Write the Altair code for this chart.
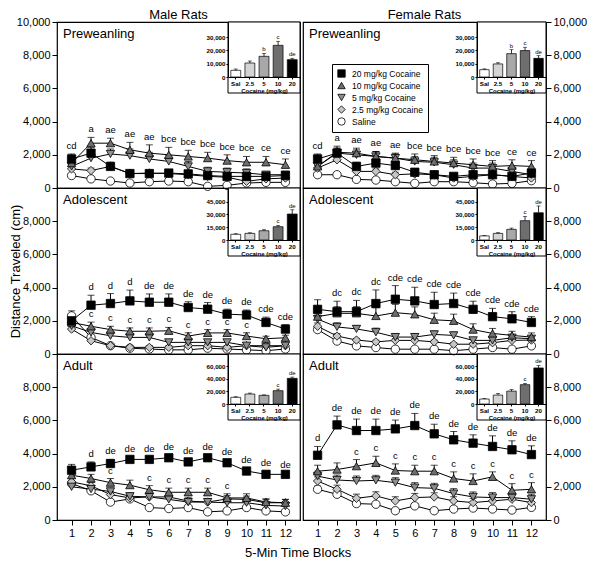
import altair as alt
import pandas as pd

FONT = "Liberation Sans"

times = list(range(1, 13))
groups = ["20 mg/kg Cocaine", "10 mg/kg Cocaine", "5 mg/kg Cocaine", "2.5 mg/kg Cocaine", "Saline"]
shapes = ["square", "triangle-up", "triangle-down", "diamond", "circle"]
fills = ["#000000", "#6e6e6e", "#8e8e8e", "#c6c6c6", "#ffffff"]
strokes = ["#000000", "#000000", "#000000", "#000000", "#000000"]
doses = ["Sal", "2.5", "5", "10", "20"]
dose_fills = ["#ffffff", "#d4d4d4", "#a8a8a8", "#6e6e6e", "#000000"]
row_names = ["Preweanling", "Adolescent", "Adult"]
col_names = ["Male Rats", "Female Rats"]

# ---------------- Male preweanling ----------------
m_pre_20 = [1750, 2100, 1300, 870, 870, 900, 850, 750, 700, 700, 700, 750]
m_pre_10 = [1500, 2700, 2700, 2300, 2100, 2000, 1900, 1800, 1650, 1550, 1550, 1400]
m_pre_5 = [1300, 1800, 2050, 1950, 1750, 1600, 1300, 1000, 950, 900, 800, 800]
m_pre_25 = [1150, 1050, 1300, 870, 900, 870, 800, 700, 650, 400, 550, 600]
m_pre_sal = [750, 550, 420, 300, 380, 420, 380, 100, 160, 300, 340, 340]
m_pre_20_se = [300, 350, 250, 200, 200, 200, 200, 150, 150, 150, 150, 150]
m_pre_10_se = [300, 350, 300, 450, 500, 450, 370, 350, 350, 350, 350, 350]
m_pre_5_se = [250, 350, 300, 400, 400, 350, 300, 250, 250, 250, 200, 200]
m_pre_25_se = [150, 150, 150, 150, 150, 150, 150, 120, 120, 120, 120, 120]
m_pre_sal_se = [120, 100, 100, 100, 100, 100, 100, 80, 80, 100, 100, 100]
m_pre_top = ["cd", "a", "ae", "ae", "ae", "bce", "bce", "bce", "bce", "bce", "ce", "ce"]
m_pre_mid = ["", "", "", "", "", "", "", "", "", "", "", ""]

# ---------------- Female preweanling ----------------
f_pre_20 = [1750, 2100, 1300, 1500, 1350, 950, 800, 700, 800, 800, 700, 900]
f_pre_10 = [1300, 2150, 2100, 1900, 1800, 1700, 1600, 1500, 1400, 1300, 1350, 1300]
f_pre_5 = [1300, 2100, 2000, 1900, 1800, 1600, 1550, 1400, 1200, 1200, 1000, 800]
f_pre_25 = [1200, 1700, 1000, 1000, 800, 850, 800, 600, 700, 800, 700, 600]
f_pre_sal = [800, 800, 520, 480, 380, 280, 380, 380, 320, 240, 280, 440]
f_pre_20_se = [300, 300, 250, 250, 250, 200, 200, 150, 150, 150, 150, 150]
f_pre_10_se = [250, 370, 300, 300, 250, 350, 350, 350, 350, 350, 350, 350]
f_pre_5_se = [250, 300, 300, 300, 300, 300, 300, 300, 300, 300, 250, 250]
f_pre_25_se = [150, 200, 150, 150, 150, 150, 150, 120, 120, 120, 120, 120]
f_pre_sal_se = [100, 100, 100, 100, 100, 80, 80, 80, 80, 80, 80, 100]
f_pre_top = ["cd", "a", "ae", "ae", "ae", "bce", "bce", "bce", "bce", "bce", "ce", "ce"]
f_pre_mid = ["", "", "", "", "", "", "", "", "", "", "", ""]

# ---------------- Male adolescent ----------------
m_ado_20 = [2000, 2940, 3040, 3200, 3120, 3120, 2800, 2700, 2400, 2350, 1900, 1500]
m_ado_10 = [1900, 1670, 1470, 1370, 1370, 1400, 1080, 1270, 1270, 1080, 920, 980]
m_ado_5 = [1700, 1300, 1100, 1000, 1000, 700, 700, 700, 700, 500, 400, 500]
m_ado_25 = [1500, 800, 500, 400, 400, 400, 500, 500, 400, 500, 500, 500]
m_ado_sal = [2300, 1000, 500, 350, 300, 250, 250, 350, 300, 250, 200, 300]
m_ado_20_se = [300, 600, 600, 650, 500, 500, 350, 400, 300, 300, 320, 260]
m_ado_10_se = [250, 250, 200, 200, 200, 200, 200, 200, 200, 200, 150, 150]
m_ado_5_se = [200, 200, 150, 150, 150, 150, 150, 150, 150, 150, 100, 100]
m_ado_25_se = [150, 150, 100, 100, 100, 100, 100, 100, 100, 100, 100, 100]
m_ado_sal_se = [300, 150, 100, 100, 80, 80, 80, 80, 80, 80, 80, 80]
m_ado_top = ["", "d", "d", "d", "de", "de", "de", "de", "de", "de", "cde", "cde"]
m_ado_mid = ["", "c", "c", "c", "c", "c", "c", "c", "c", "c", "", ""]

# ---------------- Female adolescent ----------------
f_ado_20 = [2690, 2550, 2550, 3040, 3300, 3200, 2980, 3040, 2690, 2250, 2120, 1900]
f_ado_10 = [2250, 2450, 2450, 2290, 2490, 2390, 2060, 2000, 1470, 1240, 1120, 1020]
f_ado_5 = [2100, 1630, 1510, 1310, 1020, 1020, 1180, 1120, 820, 820, 980, 920]
f_ado_25 = [1670, 1080, 840, 730, 820, 820, 730, 590, 590, 680, 820, 840]
f_ado_sal = [1470, 780, 490, 390, 290, 290, 290, 200, 290, 390, 290, 490]
f_ado_20_se = [580, 630, 680, 820, 820, 820, 740, 630, 490, 500, 430, 350]
f_ado_10_se = [300, 400, 400, 500, 500, 450, 400, 400, 350, 300, 250, 250]
f_ado_5_se = [250, 250, 200, 250, 200, 200, 200, 200, 150, 150, 150, 150]
f_ado_25_se = [200, 150, 100, 100, 100, 100, 100, 100, 100, 100, 100, 100]
f_ado_sal_se = [200, 100, 80, 80, 80, 80, 80, 80, 80, 80, 80, 80]
f_ado_top = ["", "dc", "dc", "dc", "cde", "cde", "cde", "cde", "cde", "cde", "cde", "cde"]
f_ado_mid = ["", "", "", "", "", "", "", "", "", "", "", ""]

# ---------------- Male adult ----------------
m_adu_20 = [3000, 3200, 3400, 3650, 3650, 3750, 3500, 3750, 3450, 2950, 2750, 2750]
m_adu_10 = [2700, 2500, 2250, 2100, 1820, 1670, 1670, 1670, 1330, 1330, 1080, 1040]
m_adu_5 = [2000, 1860, 1720, 1430, 1390, 1240, 1080, 1080, 1040, 1040, 880, 840]
m_adu_25 = [2300, 2060, 1530, 1330, 1390, 1390, 1140, 1080, 1270, 1240, 1040, 1040]
m_adu_sal = [2200, 1760, 1080, 1270, 750, 690, 750, 490, 550, 750, 550, 490]
m_adu_20_se = [350, 300, 250, 150, 150, 150, 150, 150, 150, 200, 200, 100]
m_adu_10_se = [250, 250, 250, 300, 250, 250, 250, 250, 250, 250, 200, 200]
m_adu_5_se = [200, 200, 200, 200, 200, 200, 200, 200, 200, 200, 200, 200]
m_adu_25_se = [200, 200, 200, 200, 200, 200, 200, 200, 200, 200, 200, 200]
m_adu_sal_se = [150, 150, 150, 150, 100, 100, 100, 100, 100, 100, 100, 100]
m_adu_top = ["", "d", "de", "de", "de", "de", "de", "de", "de", "de", "de", "de"]
m_adu_mid = ["", "", "c", "", "c", "c", "c", "c", "c", "", "", ""]

# ---------------- Female adult ----------------
f_adu_20 = [3900, 5730, 5390, 5390, 5490, 5690, 5190, 4830, 4630, 4430, 4230, 3940]
f_adu_10 = [2940, 3040, 3240, 3440, 2980, 2940, 2940, 2500, 2350, 2600, 1790, 1850]
f_adu_5 = [2640, 2410, 2350, 2390, 2250, 1950, 1910, 1590, 1390, 1350, 1350, 1250]
f_adu_25 = [2350, 1850, 1310, 1450, 1150, 1350, 1390, 1150, 1050, 1150, 1250, 1050]
f_adu_sal = [1850, 1550, 990, 950, 560, 850, 560, 660, 720, 660, 600, 760]
f_adu_20_se = [530, 530, 690, 690, 530, 730, 580, 500, 500, 640, 540, 530]
f_adu_10_se = [360, 400, 400, 400, 400, 360, 360, 400, 430, 300, 400, 400]
f_adu_5_se = [300, 300, 300, 300, 300, 300, 300, 300, 300, 300, 300, 300]
f_adu_25_se = [250, 250, 250, 250, 250, 250, 250, 250, 250, 250, 250, 250]
f_adu_sal_se = [200, 200, 150, 150, 150, 150, 150, 150, 150, 150, 150, 150]
f_adu_top = ["d", "de", "de", "de", "de", "de", "de", "de", "de", "de", "de", "de"]
f_adu_mid = ["", "", "c", "c", "c", "c", "c", "c", "c", "c", "c", "c"]

# ---------------- Insets: total distance by dose ----------------
m_pre_bar = [5000, 10500, 15500, 23750, 13000]
m_pre_bar_se = [1000, 1500, 2200, 3000, 1000]
m_pre_bar_lab = ["", "", "b", "c", "de"]
f_pre_bar = [5500, 9800, 17500, 19800, 14000]
f_pre_bar_se = [600, 900, 3000, 2500, 2000]
f_pre_bar_lab = ["", "", "b", "c", "de"]
m_ado_bar = [6700, 7800, 10900, 15600, 30500]
m_ado_bar_se = [700, 700, 1200, 1500, 5000]
m_ado_bar_lab = ["", "", "", "c", "de"]
f_ado_bar = [4800, 7800, 12500, 22700, 32000]
f_ado_bar_se = [500, 800, 1500, 5000, 8000]
f_ado_bar_lab = ["", "", "", "c", "de"]
m_adu_bar = [10600, 15900, 13800, 21200, 40800]
m_adu_bar_se = [1000, 1500, 700, 2500, 2000]
m_adu_bar_lab = ["", "", "", "c", "de"]
f_adu_bar = [7900, 14200, 20500, 30800, 57400]
f_adu_bar_se = [800, 2500, 2500, 2000, 4000]
f_adu_bar_lab = ["", "", "", "c", "de"]

inset_ticks = [[0, 10000, 20000, 30000], [0, 15000, 30000, 45000], [0, 20000, 40000, 60000]]

PANELS = {
    (0, 0): ([m_pre_20, m_pre_10, m_pre_5, m_pre_25, m_pre_sal],
             [m_pre_20_se, m_pre_10_se, m_pre_5_se, m_pre_25_se, m_pre_sal_se],
             m_pre_top, m_pre_mid, m_pre_bar, m_pre_bar_se, m_pre_bar_lab),
    (0, 1): ([f_pre_20, f_pre_10, f_pre_5, f_pre_25, f_pre_sal],
             [f_pre_20_se, f_pre_10_se, f_pre_5_se, f_pre_25_se, f_pre_sal_se],
             f_pre_top, f_pre_mid, f_pre_bar, f_pre_bar_se, f_pre_bar_lab),
    (1, 0): ([m_ado_20, m_ado_10, m_ado_5, m_ado_25, m_ado_sal],
             [m_ado_20_se, m_ado_10_se, m_ado_5_se, m_ado_25_se, m_ado_sal_se],
             m_ado_top, m_ado_mid, m_ado_bar, m_ado_bar_se, m_ado_bar_lab),
    (1, 1): ([f_ado_20, f_ado_10, f_ado_5, f_ado_25, f_ado_sal],
             [f_ado_20_se, f_ado_10_se, f_ado_5_se, f_ado_25_se, f_ado_sal_se],
             f_ado_top, f_ado_mid, f_ado_bar, f_ado_bar_se, f_ado_bar_lab),
    (2, 0): ([m_adu_20, m_adu_10, m_adu_5, m_adu_25, m_adu_sal],
             [m_adu_20_se, m_adu_10_se, m_adu_5_se, m_adu_25_se, m_adu_sal_se],
             m_adu_top, m_adu_mid, m_adu_bar, m_adu_bar_se, m_adu_bar_lab),
    (2, 1): ([f_adu_20, f_adu_10, f_adu_5, f_adu_25, f_adu_sal],
             [f_adu_20_se, f_adu_10_se, f_adu_5_se, f_adu_25_se, f_adu_sal_se],
             f_adu_top, f_adu_mid, f_adu_bar, f_adu_bar_se, f_adu_bar_lab),
}

# ---------------- layout constants ----------------
W, H = 243, 166
XDOM = [0.25, 12.75]
INSET_ZERO = [55, 52, 50]          # pixel row of the inset's zero line
INSET_PX_PER_UNIT = [40 / 30000, 38.3 / 45000, 37.7 / 60000]
INSET_LEFT = [171, 174]

LEG = alt.Legend(
    title=None, orient="none", legendX=275, legendY=42,
    strokeColor="black", fillColor="white", padding=5,
    labelFontSize=8.5, labelFont=FONT, labelColor="black",
    symbolStrokeWidth=0.8, symbolSize=55,
    rowPadding=1, labelOffset=6,
)


def make_panel(r, c):
    means, sems, top_lab, mid_lab, bar, bar_se, bar_lab = PANELS[(r, c)]
    recs = []
    for gi in reversed(range(5)):
        for t, m, s in zip(times, means[gi], sems[gi]):
            recs.append(dict(time=t, group=groups[gi], mean=m, top=m + s))
    df = pd.DataFrame(recs)

    lab_recs = []
    for i, t in enumerate(times):
        tops = [means[g][i] + sems[g][i] for g in range(5)]
        if top_lab[i]:
            lab_recs.append(dict(time=t, label=top_lab[i], anchor=max(tops)))
        if mid_lab[i]:
            lab_recs.append(dict(time=t, label=mid_lab[i], anchor=tops[1]))
    ldf = pd.DataFrame(lab_recs)

    xscale = alt.Scale(domain=XDOM, nice=False, zero=False)
    if r == 2:
        xaxis = alt.Axis(values=times, title=None, grid=False, domain=False, tickSize=5,
                         tickColor="black", labelFontSize=11, labelColor="black",
                         labelPadding=2, labelFlush=False)
    else:
        xaxis = None
    yvals = list(range(0, 10001, 2000)) if r == 0 else list(range(0, 8001, 2000))
    ykw = dict(orient="left" if c == 0 else "right", values=yvals, format=",.0f", grid=False,
               domain=False, tickSize=5, tickColor="black", labelFontSize=11,
               labelColor="black", labelPadding=2, labelFlush=False)
    if r == 1 and c == 0:
        ykw.update(title="Distance Traveled (cm)", titleFontSize=13, titleFontWeight="normal",
                   titlePadding=0, titleColor="black")
    else:
        ykw.update(title=None)
    yaxis = alt.Axis(**ykw)
    yscale = alt.Scale(domain=[0, 10000], nice=False)

    X = alt.X("time:Q", scale=xscale, axis=xaxis)
    base = alt.Chart(df)
    lines = base.mark_line(color="black", strokeWidth=1).encode(
        x=X, y=alt.Y("mean:Q", scale=yscale, axis=yaxis), detail="group:N")
    err = base.mark_rule(color="black", strokeWidth=1).encode(
        x=X, y=alt.Y("mean:Q", scale=yscale, axis=yaxis), y2="top:Q")
    caps = base.mark_tick(orient="horizontal", size=7, thickness=1, color="black").encode(
        x=X, y=alt.Y("top:Q", scale=yscale, axis=yaxis))
    pts = base.mark_point(filled=True, size=70, strokeWidth=0.8, opacity=1).encode(
        x=X, y=alt.Y("mean:Q", scale=yscale, axis=yaxis),
        shape=alt.Shape("group:N", scale=alt.Scale(domain=groups, range=shapes), legend=LEG),
        fill=alt.Fill("group:N", scale=alt.Scale(domain=groups, range=fills), legend=LEG),
        stroke=alt.Stroke("group:N", scale=alt.Scale(domain=groups, range=strokes), legend=LEG),
    )
    letters = alt.Chart(ldf).mark_text(fontSize=9.5, baseline="bottom", dy=-3, color="black",
                                       font=FONT).encode(
        x=X, y=alt.Y("anchor:Q", scale=yscale, axis=yaxis), text="label:N")
    name = alt.Chart(pd.DataFrame({"t": [row_names[r]]})).mark_text(
        align="left", baseline="top", fontSize=13, font=FONT, color="black").encode(
        x=alt.value(6), y=alt.value(6), text="t:N")
    main = alt.layer(lines, err, caps, pts, letters, name)

    # ---------- inset ----------
    zero = INSET_ZERO[r]
    dmax = zero / INSET_PX_PER_UNIT[r]
    ix0 = INSET_LEFT[c]
    idf = pd.DataFrame({"dose": doses, "val": bar, "top": [v + e for v, e in zip(bar, bar_se)],
                        "lab": bar_lab, "fillc": dose_fills})
    ixaxis = alt.Axis(orient="bottom", offset=zero - H, title="Cocaine (mg/kg)", labelAngle=0,
                      labelFontSize=6.2, labelFontWeight="bold", labelPadding=1, tickSize=2,
                      titleFontSize=6, titleFontWeight="bold", titlePadding=1,
                      domainColor="black", tickColor="black", labelColor="black",
                      titleColor="black", zindex=2)
    IX = alt.X("dose:N", sort=doses,
               scale=alt.Scale(domain=doses, range=[ix0, W], paddingInner=0.3, paddingOuter=0.2),
               axis=ixaxis)
    iyaxis = alt.Axis(orient="left", offset=-ix0, values=inset_ticks[r], format=",.0f", title=None,
                      grid=False, labelFontSize=6.2, labelFontWeight="bold", tickSize=2,
                      labelPadding=1, domainColor="black", tickColor="black", labelColor="black",
                      zindex=2)
    iyscale = alt.Scale(domain=[0, dmax], range=[zero, 0], nice=False)
    box = alt.Chart(pd.DataFrame({"a": [0]})).mark_rect(fill="white", stroke="black",
                                                         strokeWidth=1).encode(
        x=alt.value(ix0), x2=alt.value(W), y=alt.value(0), y2=alt.value(zero + 16))
    ib = alt.Chart(idf)
    ibars = ib.mark_bar(stroke="black", strokeWidth=0.7).encode(
        x=IX, y=alt.Y("val:Q", scale=iyscale, axis=iyaxis), fill=alt.Fill("fillc:N", scale=None))
    ierr = ib.mark_rule(color="black", strokeWidth=0.8).encode(
        x=IX, y=alt.Y("val:Q", scale=iyscale, axis=iyaxis), y2="top:Q")
    icap = ib.mark_tick(orient="horizontal", size=4, thickness=0.8, color="black").encode(
        x=IX, y=alt.Y("top:Q", scale=iyscale, axis=iyaxis))
    ilab = ib.mark_text(fontSize=6, baseline="bottom", dy=-1, color="black", font=FONT).encode(
        x=IX, y=alt.Y("top:Q", scale=iyscale, axis=iyaxis), text="lab:N")
    inset = alt.layer(box, ibars, ierr, icap, ilab)

    panel = alt.layer(main, inset).resolve_scale(x="independent", y="independent").properties(
        width=W, height=H)
    if r == 0:
        panel = panel.properties(title=alt.TitleParams(col_names[c], fontSize=13,
                                                       fontWeight="normal", offset=-6,
                                                       anchor="middle", color="black"))
    return panel


left = alt.vconcat(*[make_panel(r, 0) for r in range(3)], spacing=0, bounds="flush")
right = alt.vconcat(*[make_panel(r, 1) for r in range(3)], spacing=0, bounds="flush")

chart = alt.hconcat(left, right, spacing=0).properties(
    padding=0,
    title=alt.TitleParams("5-Min Time Blocks", orient="bottom", anchor="middle", fontSize=13,
                          fontWeight="normal", offset=8, color="black"),
).configure_view(stroke="black", strokeWidth=1.2).configure_axis(
    labelFont=FONT, titleFont=FONT
).configure_title(font=FONT).configure_legend(labelFont=FONT).configure_text(font=FONT)

chart.save("out.html", embed_options={"renderer": "svg", "actions": False})
